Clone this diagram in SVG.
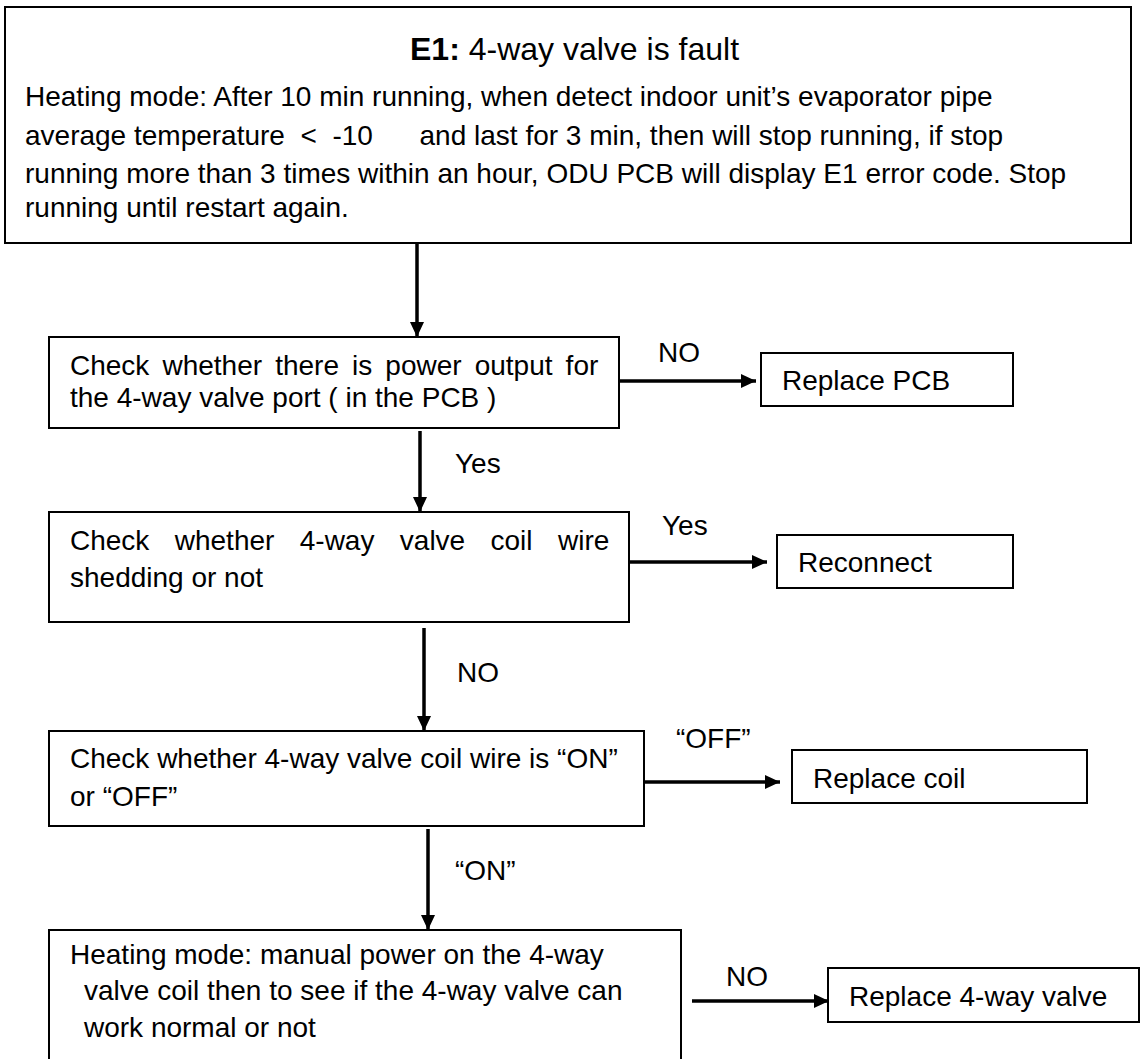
<svg xmlns="http://www.w3.org/2000/svg" width="1141" height="1059" viewBox="0 0 1141 1059">
<defs>
<style>
.box{fill:#fff;stroke:#000;stroke-width:2}
.t{font-family:"Liberation Sans",Arial,sans-serif;font-size:28px;fill:#000}
.ttl{font-family:"Liberation Sans",Arial,sans-serif;font-size:32px;fill:#000}
.ln{stroke:#000;stroke-width:3.5;fill:none}
</style>
<marker id="ah" viewBox="0 0 15 14" refX="15" refY="7" markerWidth="15" markerHeight="14" markerUnits="userSpaceOnUse" orient="auto">
<path d="M0,0 L15,7 L0,14 z" fill="#000"/>
</marker>
</defs>
<rect width="1141" height="1059" fill="#fff"/>
<g id="connectors">
<line class="ln" x1="417" y1="238" x2="417" y2="337" marker-end="url(#ah)"/>
<line class="ln" x1="619" y1="381" x2="756" y2="381" marker-end="url(#ah)"/>
<line class="ln" x1="420" y1="431" x2="420" y2="512" marker-end="url(#ah)"/>
<line class="ln" x1="629" y1="562" x2="767" y2="562" marker-end="url(#ah)"/>
<line class="ln" x1="424" y1="628" x2="424" y2="731" marker-end="url(#ah)"/>
<line class="ln" x1="642" y1="782" x2="780" y2="782" marker-end="url(#ah)"/>
<line class="ln" x1="428" y1="829" x2="428" y2="930" marker-end="url(#ah)"/>
<line class="ln" x1="692" y1="1001" x2="829" y2="1001" marker-end="url(#ah)"/>
<text class="t" x="658" y="362">NO</text>
<text class="t" x="455" y="473">Yes</text>
<text class="t" x="662" y="535">Yes</text>
<text class="t" x="457" y="682">NO</text>
<text class="t" x="676" y="748">“OFF”</text>
<text class="t" x="455" y="880">“ON”</text>
<text class="t" x="726" y="986">NO</text>
</g>
<g id="n0">
<rect class="box" x="5" y="7" width="1126" height="236"/>
<text class="ttl" x="410" y="60"><tspan font-weight="bold">E1:</tspan> 4-way valve is fault</text>
<text class="t" x="25" y="106">Heating mode: After 10 min running, when detect indoor unit’s evaporator pipe</text>
<text class="t" x="25" y="145" xml:space="preserve">average temperature  &lt;  -10      and last for 3 min, then will stop running, if stop</text>
<text class="t" x="25" y="183">running more than 3 times within an hour, ODU PCB will display E1 error code. Stop</text>
<text class="t" x="25" y="217">running until restart again.</text>
</g>
<g id="n1">
<rect class="box" x="49" y="337" width="570" height="91"/>
<text class="t" x="70" y="375" word-spacing="5.3">Check whether there is power output for</text>
<text class="t" x="70" y="407">the 4-way valve port ( in the PCB )</text>
</g>
<g id="n2">
<rect class="box" x="761" y="353" width="252" height="53"/>
<text class="t" x="782" y="390">Replace PCB</text>
</g>
<g id="n3">
<rect class="box" x="49" y="512" width="580" height="110"/>
<text class="t" x="70" y="550" word-spacing="17.6">Check whether 4-way valve coil wire</text>
<text class="t" x="70" y="587">shedding or not</text>
</g>
<g id="n4">
<rect class="box" x="777" y="535" width="236" height="53"/>
<text class="t" x="798" y="572">Reconnect</text>
</g>
<g id="n5">
<rect class="box" x="49" y="731" width="595" height="95"/>
<text class="t" x="70" y="768">Check whether 4-way valve coil wire is “ON”</text>
<text class="t" x="70" y="806">or “OFF”</text>
</g>
<g id="n6">
<rect class="box" x="792" y="750" width="295" height="53"/>
<text class="t" x="813" y="788">Replace coil</text>
</g>
<g id="n7">
<rect class="box" x="49" y="930" width="632" height="140"/>
<text class="t" x="70" y="964">Heating mode: manual power on the 4-way</text>
<text class="t" x="84" y="1000">valve coil then to see if the 4-way valve can</text>
<text class="t" x="84" y="1037">work normal or not</text>
</g>
<g id="n8">
<rect class="box" x="828" y="968" width="311" height="54"/>
<text class="t" x="849" y="1006">Replace 4-way valve</text>
</g>
</svg>
